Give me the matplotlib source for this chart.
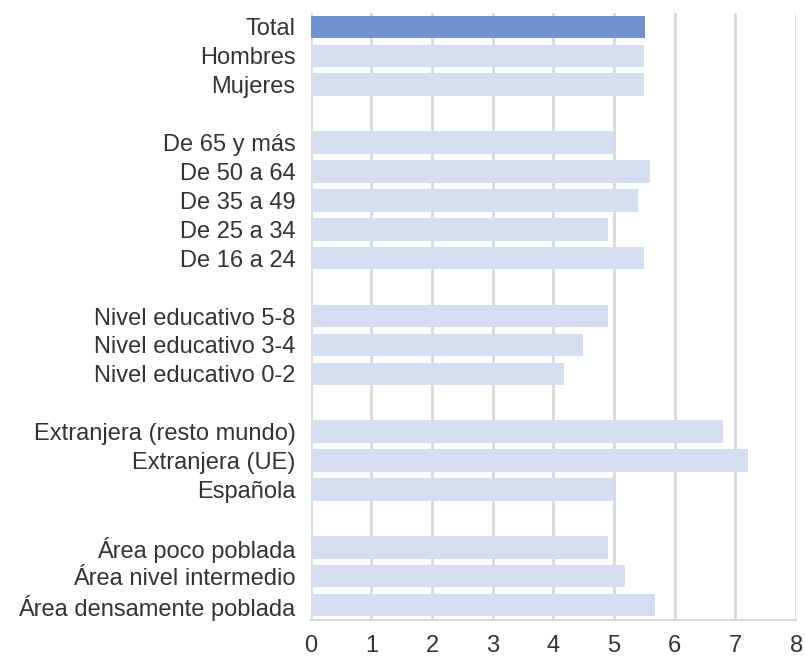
import matplotlib
matplotlib.use("Agg")
from matplotlib import pyplot as plt

plt.rcParams['font.family'] = ['Liberation Sans', 'DejaVu Sans']

# groups top to bottom, blank row between groups
groups = [
    ['Total', 'Hombres', 'Mujeres'],
    ['De 65 y más', 'De 50 a 64', 'De 35 a 49', 'De 25 a 34', 'De 16 a 24'],
    ['Nivel educativo 5-8', 'Nivel educativo 3-4', 'Nivel educativo 0-2'],
    ['Extranjera (resto mundo)', 'Extranjera (UE)', 'Española'],
    ['Área poco poblada', 'Área nivel intermedio', 'Área densamente poblada'],
]
values = [
    [5.51, 5.49, 5.49],
    [5.0, 5.59, 5.40, 4.90, 5.49],
    [4.90, 4.49, 4.18],
    [6.80, 7.21, 5.0],
    [4.90, 5.18, 5.68],
]

labels, vals, ypos = [], [], []
row = 0
for g, v in zip(groups, values):
    for lab, val in zip(g, v):
        labels.append(lab)
        vals.append(val)
        ypos.append(row)
        row += 1
    row += 1

colors = ['#6f93cc' if lab == 'Total' else '#d5dff0' for lab in labels]

fig = plt.figure(figsize=(8.05, 6.58), dpi=100)
ax = fig.add_axes([0.386, 0.0585, 0.603, 0.9225])
ax.barh(ypos, vals, height=0.78, color=colors, zorder=2)

ax.set_xlim(0, 8)
ax.set_ylim(row - 1 - 0.5, -0.5)
ax.set_xticks(range(0, 9))
ax.set_yticks(ypos)
ax.set_yticklabels(labels)
ax.tick_params(axis='both', length=0, labelsize=17, colors='#333333')
ax.tick_params(axis='x', pad=11)
ax.tick_params(axis='y', pad=11)
ax.grid(axis='x', color='#d9d9d9', linewidth=2, zorder=0)
for s in ['top', 'right', 'left']:
    ax.spines[s].set_visible(False)
ax.spines['bottom'].set_color('#d9d9d9')
ax.spines['bottom'].set_linewidth(1.5)

plt.savefig("out.png", dpi=100)
